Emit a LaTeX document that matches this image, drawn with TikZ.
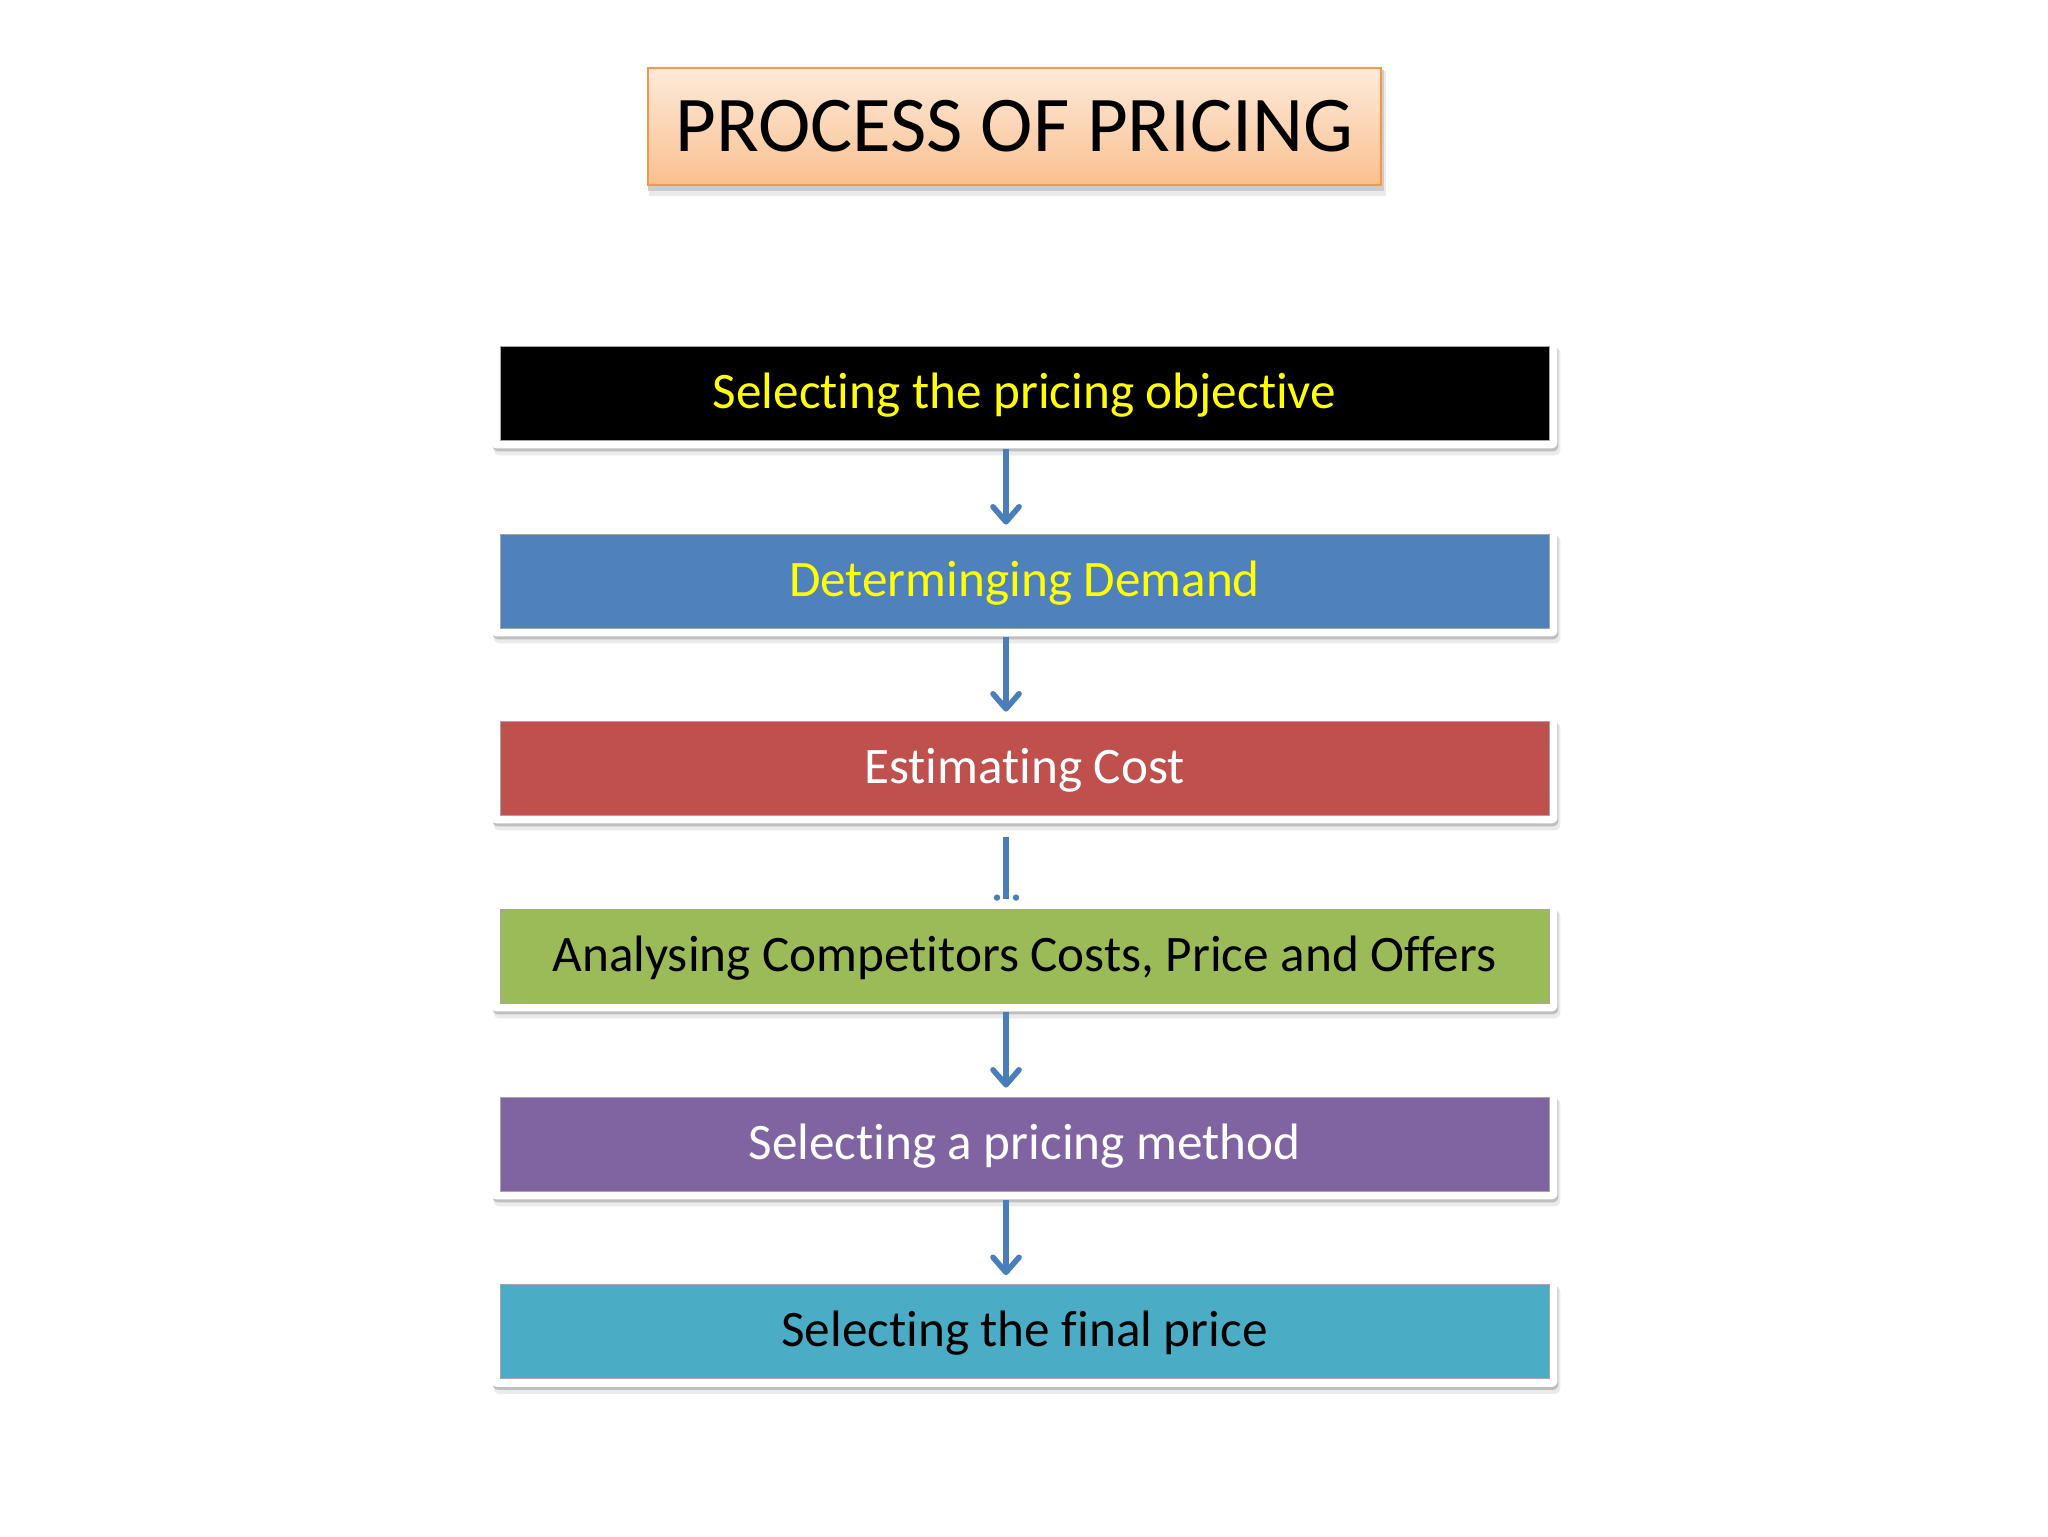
\documentclass[tikz,border=0pt]{standalone}
\usepackage{fontspec}
\setmainfont{Carlito}[Ligatures=NoCommon]
\usetikzlibrary{arrows.meta,calc,backgrounds}
\definecolor{ttop}{RGB}{253,234,218}
\definecolor{tbot}{RGB}{250,192,144}
\definecolor{tborder}{RGB}{247,150,70}
\definecolor{cblue}{RGB}{79,129,189}
\definecolor{cred}{RGB}{192,80,77}
\definecolor{cgreen}{RGB}{155,187,89}
\definecolor{cpurple}{RGB}{128,100,162}
\definecolor{cteal}{RGB}{75,172,198}
\definecolor{cyellow}{RGB}{255,255,0}
\definecolor{arrowblue}{RGB}{74,126,187}
\tikzset{
  titlebox/.style={minimum width=366.5pt, minimum height=58.5pt, inner sep=0pt,
    top color=ttop, bottom color=tbot, draw=tborder, line width=1pt,
    font=\fontsize{39.5}{47}\selectfont},
  stepbox/.style={minimum width=524.5pt, minimum height=47pt, inner sep=0pt,
    text height=18.5pt, text depth=3.5pt,
    draw=black!35, line width=0.4pt, font=\fontsize{25.6}{30}\selectfont},
  flowarrow/.style={draw=arrowblue, line width=2.8pt,
    -{Straight Barb[round,length=7.5pt,width=13pt]}},
  flowline/.style={draw=arrowblue, line width=2.8pt},
}
\begin{document}
\begin{tikzpicture}[x=0.5pt,y=-0.5pt]
\useasboundingbox (0,0) rectangle (2048,1536);

\node[titlebox] (title) at (1014.5,126.5) {PROCESS OF PRICING};

\node[stepbox, fill=black, text=cyellow] (b1) at (1024.5,393) {Selecting the pricing objective};
\node[stepbox, fill=cblue, text=cyellow] (b2) at (1024.5,581) {Determinging Demand};
\node[stepbox, fill=cred, text=white] (b3) at (1024.5,768) {Estimating Cost};
\node[stepbox, fill=cgreen, text=black] (b4) at (1024.5,956) {Analysing Competitors Costs, Price and Offers};
\node[stepbox, fill=cpurple, text=white] (b5) at (1024.5,1144) {Selecting a pricing method};
\node[stepbox, fill=cteal, text=black] (b6) at (1024.5,1331.5) {Selecting the final price};

\begin{scope}[on background layer]
  \fill[white] (0,0) rectangle (2048,1536);
  \fill[black!8] ($(title.north west)+(2,4)$) rectangle ($(title.south east)+(4,10)$);
  \fill[black!20] ($(title.north west)+(1,3)$) rectangle ($(title.south east)+(2,5)$);
  \foreach \n in {b1,b2,b3,b4,b5,b6} {
    \fill[black!8, rounded corners=3pt] ($(\n.north west)+(-6,2)$) rectangle ($(\n.south east)+(11,15)$);
    \fill[black!25, rounded corners=3pt] ($(\n.north west)+(-7,0)$) rectangle ($(\n.south east)+(9,11)$);
    \fill[white, rounded corners=3pt] ($(\n.north west)+(-9,-6)$) rectangle ($(\n.south east)+(8,8)$);
  }
\end{scope}

\coordinate (ax) at (1006,0);
\draw[flowarrow] ($(b1.south -| ax)+(0,9)$) -- ($(b2.north -| ax)+(0,-9)$);
\draw[flowarrow] ($(b2.south -| ax)+(0,9)$) -- ($(b3.north -| ax)+(0,-9)$);
\draw[flowline] ($(b3.south -| ax)+(0,22)$) -- ($(b4.north -| ax)+(0,-10)$);
\fill[arrowblue] ($(b4.north -| ax)+(-9,-11)$) circle (1.6pt);
\fill[arrowblue] ($(b4.north -| ax)+(10,-11)$) circle (1.6pt);
\draw[flowarrow] ($(b4.south -| ax)+(0,9)$) -- ($(b5.north -| ax)+(0,-9)$);
\draw[flowarrow] ($(b5.south -| ax)+(0,9)$) -- ($(b6.north -| ax)+(0,-9)$);
\end{tikzpicture}
\end{document}
